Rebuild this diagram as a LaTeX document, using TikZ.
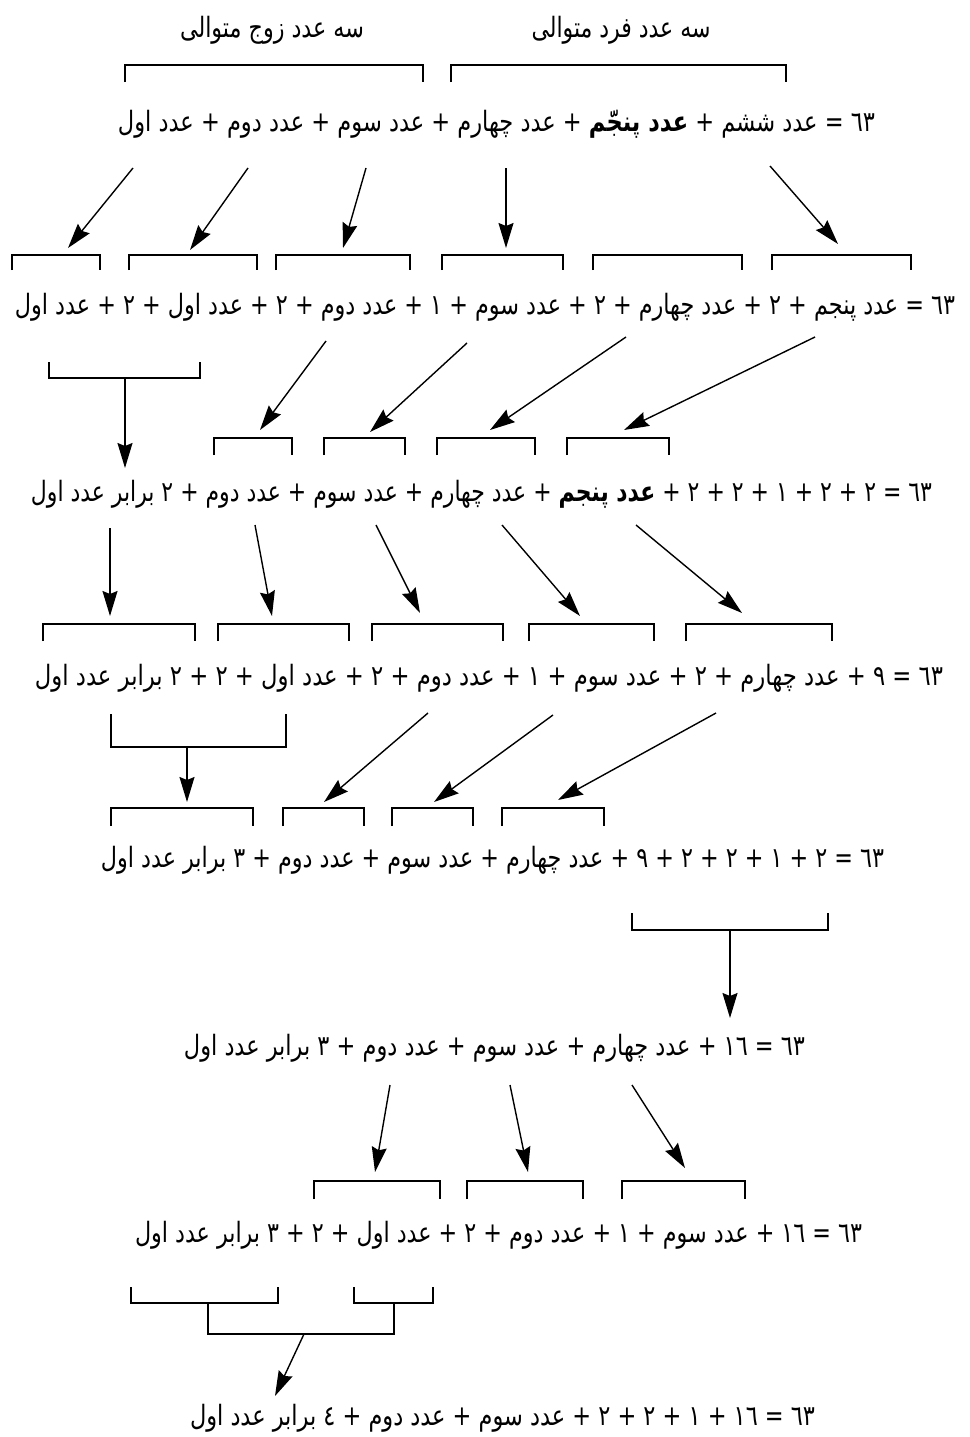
\documentclass[tikz,border=0pt]{standalone}
\usepackage{fontspec}
\usepackage{graphicx}
\usetikzlibrary{arrows.meta}
\TeXXeTstate=1
\newfontfamily\arabicfont[Script=Arabic]{DejaVu Sans}
\newcommand\fitline[2]{\resizebox{#1pt}{\height}{#2}}
\newcommand\brk[4]{\draw[br] (#1,#4) -- (#1,#3) -- (#2,#3) -- (#2,#4);}
\newcommand\conn[3]{\coordinate (#1s) at (#2); \coordinate (#1e) at (#3); \draw[arr] (#1s) -- (#1e);}
\begin{document}
\begin{tikzpicture}[x=1pt,y=-1pt,
  eq/.style={inner sep=0pt, font=\arabicfont\fontsize{28}{32}\selectfont},
  arr/.style={line width=1.4pt, -{Stealth[length=25pt,width=15pt,inset=3pt]}},
  br/.style={line width=1.9pt}]
\useasboundingbox (0,0) rectangle (969,1437);
% top labels
\node[eq] (t1) at (272,30) {\fitline{184}{\beginR سه عدد زوج متوالی\endR}};
\node[eq] (t2) at (621,30) {\fitline{179}{\beginR سه عدد فرد متوالی\endR}};
\brk{125}{423}{65}{82}
\brk{451}{786}{65}{82}
% line 1
\node[eq] (l1) at (496.5,124) {\fitline{757}{\beginR ٦٣ = عدد ششم + {\bfseries عدد پنجّم} + عدد چهارم + عدد سوم + عدد دوم + عدد اول\endR}};
\conn{a1}{133,168}{68,248}
\conn{a2}{248,168}{190,250}
\conn{a3}{366,168}{343,248}
\conn{a4}{506,168}{506,248}
\conn{a5}{770,166}{838,244}
\brk{12}{100}{255}{270}
\brk{129}{257}{255}{270}
\brk{276}{410}{255}{270}
\brk{442}{563}{255}{270}
\brk{593}{742}{255}{270}
\brk{772}{911}{255}{270}
% line 2
\node[eq] (l2) at (485,307) {\fitline{940}{\beginR ٦٣ = عدد پنجم + ٢ + عدد چهارم + ٢ + عدد سوم + ١ + عدد دوم + ٢ + عدد اول + ٢ + عدد اول\endR}};
\brk{49}{200}{378}{362}
\conn{b0}{125,378}{125,468}
\conn{b1}{326,341}{260,430}
\conn{b2}{467,343}{370,432}
\conn{b3}{626,337}{490,430}
\conn{b4}{815,337}{624,430}
\brk{214}{292}{438}{455}
\brk{324}{405}{438}{455}
\brk{437}{535}{438}{455}
\brk{567}{669}{438}{455}
% line 3
\node[eq] (l3) at (481.5,494) {\fitline{901}{\beginR ٦٣ = ٢ + ٢ + ١ + ٢ + ٢ + {\bfseries عدد پنجم} + عدد چهارم + عدد سوم + عدد دوم + ٢ برابر عدد اول\endR}};
\conn{c1}{110,528}{110,616}
\conn{c2}{255,525}{272,616}
\conn{c3}{376,525}{420,613}
\conn{c4}{502,525}{580,616}
\conn{c5}{636,525}{742,613}
\brk{43}{195}{624}{641}
\brk{218}{349}{624}{641}
\brk{372}{503}{624}{641}
\brk{529}{654}{624}{641}
\brk{686}{832}{624}{641}
% line 4
\node[eq] (l4) at (489,678) {\fitline{908}{\beginR ٦٣ = ٩ + عدد چهارم + ٢ + عدد سوم + ١ + عدد دوم + ٢ + عدد اول + ٢ + ٢ برابر عدد اول\endR}};
\brk{111}{286}{747}{714}
\conn{d0}{187,747}{187,802}
\conn{d1}{428,713}{324,802}
\conn{d2}{553,715}{434,802}
\conn{d3}{716,713}{558,800}
\brk{111}{253}{808}{826}
\brk{283}{364}{808}{826}
\brk{392}{473}{808}{826}
\brk{502}{604}{808}{826}
% line 5
\node[eq] (l5) at (492.5,860) {\fitline{783}{\beginR ٦٣ = ٢ + ١ + ٢ + ٢ + ٩ + عدد چهارم + عدد سوم + عدد دوم + ٣ برابر عدد اول\endR}};
\brk{632}{828}{930}{913}
\conn{e0}{730,930}{730,1018}
% line 6
\node[eq] (l6) at (494.5,1048) {\fitline{621}{\beginR ٦٣ = ١٦ + عدد چهارم + عدد سوم + عدد دوم + ٣ برابر عدد اول\endR}};
\conn{f1}{390,1085}{375,1172}
\conn{f2}{510,1085}{528,1172}
\conn{f3}{632,1085}{685,1168}
\brk{314}{440}{1181}{1199}
\brk{467}{583}{1181}{1199}
\brk{622}{745}{1181}{1199}
% line 7
\node[eq] (l7) at (498.5,1235) {\fitline{727}{\beginR ٦٣ = ١٦ + عدد سوم + ١ + عدد دوم + ٢ + عدد اول + ٢ + ٣ برابر عدد اول\endR}};
\brk{131}{278}{1303}{1287}
\brk{354}{433}{1303}{1287}
\coordinate (g1) at (208,1303);
\coordinate (g2) at (394,1303);
\coordinate (g3) at (208,1334);
\coordinate (g4) at (394,1334);
\draw[br] (g1) -- (g3) -- (g4) -- (g2);
\conn{g5}{304,1334}{275,1396}
% line 8
\node[eq] (l8) at (502.5,1418) {\fitline{625}{\beginR ٦٣ = ١٦ + ١ + ٢ + ٢ + عدد سوم + عدد دوم + ٤ برابر عدد اول\endR}};
\end{tikzpicture}
\end{document}
